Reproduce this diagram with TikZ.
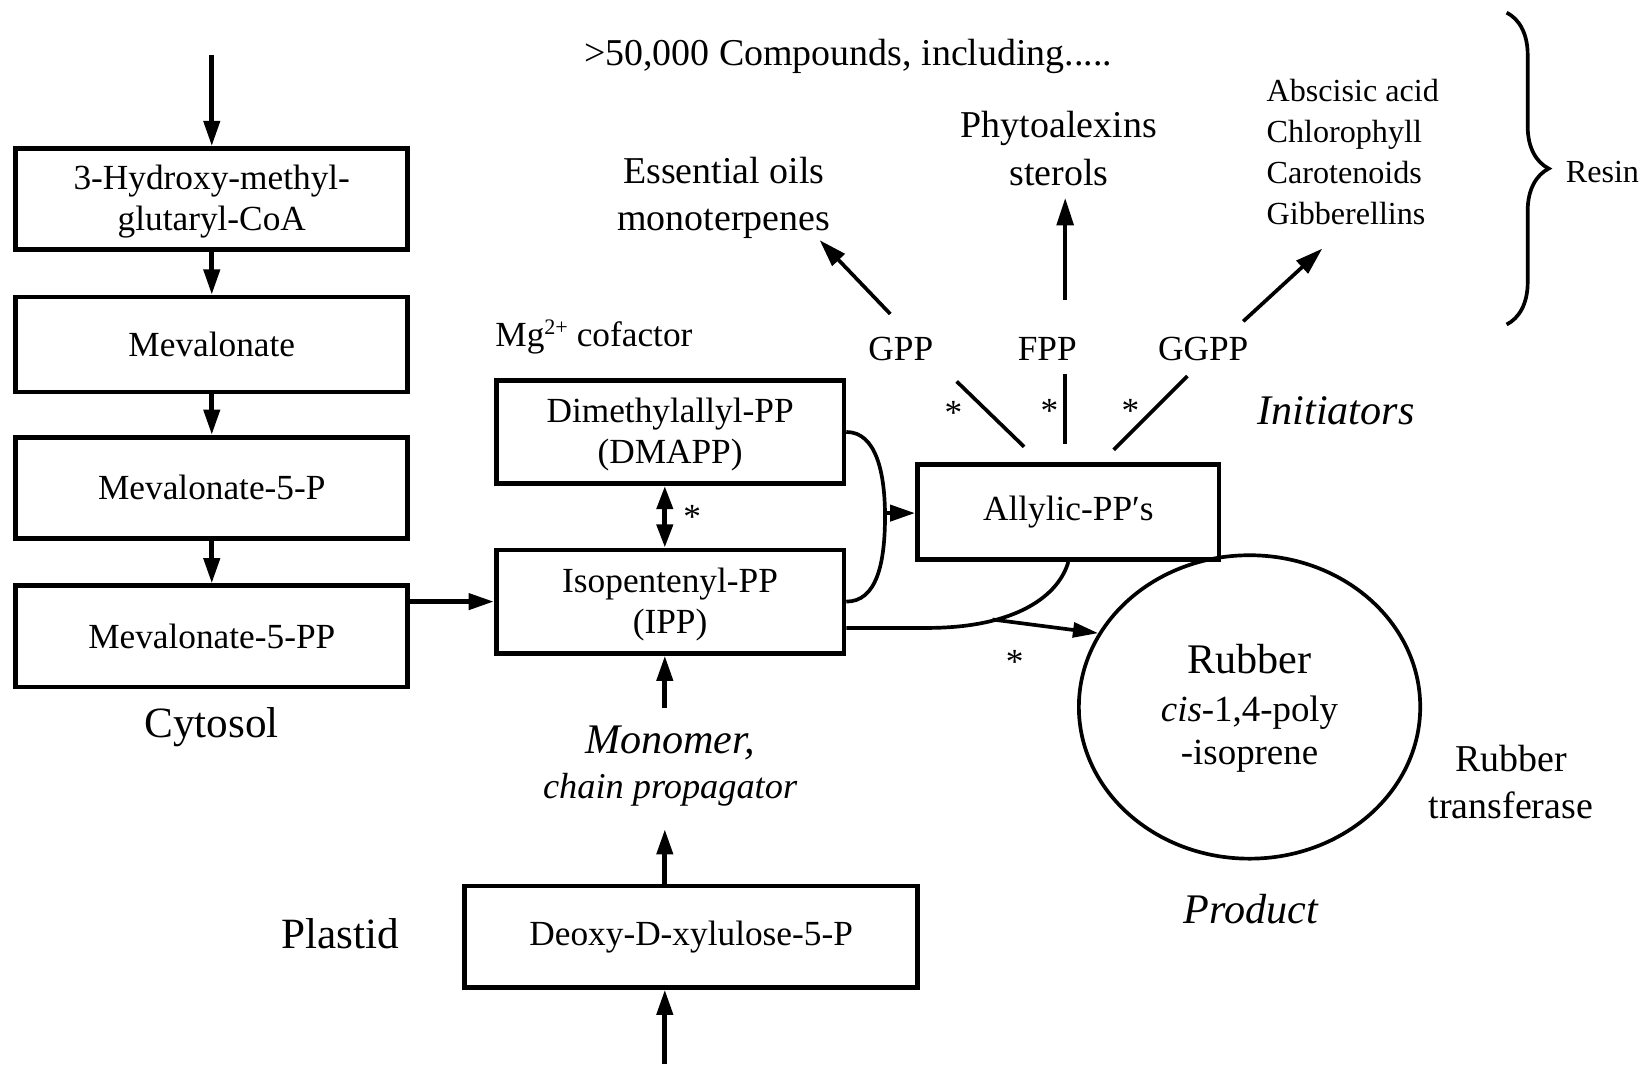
\documentclass[tikz,border=0pt]{standalone}
\usepackage{fontspec}
\setmainfont{Liberation Serif}
\usetikzlibrary{arrows.meta,decorations.pathreplacing,shapes.geometric}
\newcommand\szbox{\fontsize{33.5}{39}\selectfont}
\newcommand\szhead{\fontsize{36}{45}\selectfont}
\newcommand\szlist{\fontsize{30.5}{39}\selectfont}
\newcommand\szbig{\fontsize{40}{46}\selectfont}
\newcommand\szhuge{\fontsize{41}{46}\selectfont}
\begin{document}
\begin{tikzpicture}[x=1pt,y=-1pt,
  box/.style={draw,line width=4.5pt,inner sep=0pt,font=\szbox,align=center},
  arr/.style={line width=4.5pt,-{Triangle[length=24pt,width=15pt]}},
  darr/.style={line width=4.5pt,{Triangle[length=22pt,width=15pt]}-{Triangle[length=22pt,width=15pt]}},
  ln/.style={line width=3.5pt},
  lbl/.style={inner sep=0pt,align=center},
  star/.style={inner sep=0pt,font=\szbox}]
\useasboundingbox (0,0) rectangle (1568,1010);
\fill[white] (0,0) rectangle (1568,1010);

% left column
\coordinate (topin) at (201,52);
\node[box,minimum width=372pt,minimum height=96pt] (hmg) at (201,189) {\rule{0pt}{28pt}3-Hydroxy-methyl-\\glutaryl-CoA};
\node[box,minimum width=372pt,minimum height=90pt] (mev) at (201,327) {Mevalonate};
\node[box,minimum width=372pt,minimum height=96pt] (m5p) at (201,463) {Mevalonate-5-P};
\node[box,minimum width=372pt,minimum height=96pt] (m5pp) at (201,604) {Mevalonate-5-PP};
\node[lbl,font=\szhuge] (cyt) at (201,690) {Cytosol};
\node[lbl,font=\szhuge] (pla) at (323,886) {Plastid};
\draw[arr] (topin) -- (hmg.north);
\draw[arr] (hmg.south) -- (mev.north);
\draw[arr] (mev.south) -- (m5p.north);
\draw[arr] (m5p.south) -- (m5pp.north);

% middle column
\node[lbl,font=\szbox,anchor=west] (mg) at (470,320) {Mg\raisebox{11pt}{\fontsize{21}{21}\selectfont 2+} cofactor};
\node[box,minimum width=330pt,minimum height=98pt] (dmapp) at (636,410) {\rule{0pt}{28pt}Dimethylallyl-PP\\(DMAPP)};
\node[box,minimum width=330pt,minimum height=98pt] (ipp) at (636,571) {\rule{0pt}{28pt}Isopentenyl-PP\\(IPP)};
\node[lbl,font=\szbig\itshape] (mono) at (636,705) {Monomer,};
\node[lbl,font=\fontsize{34.5}{40}\selectfont\itshape] (chain) at (636,750) {chain propagator};
\node[box,minimum width=430pt,minimum height=96pt] (deoxy) at (656,889) {Deoxy-D-xylulose-5-P};
\coordinate (m1) at (631,672);
\coordinate (m2) at (631,787);
\coordinate (botin) at (631,1010);
\draw[arr] (m5pp.east |- ipp.west) -- (ipp.west);
\draw[darr] ([xshift=-5pt]dmapp.south) -- ([xshift=-5pt]ipp.north);
\node[star] (s1) at (657,491) {*};
\draw[arr] (m1) -- ([xshift=-5pt]ipp.south);
\draw[arr] ([xshift=-25pt]deoxy.north) -- (m2);
\draw[arr] (botin) -- ([xshift=-25pt]deoxy.south);

% allylic
\node[box,minimum width=286pt,minimum height=90pt] (allyl) at (1014,486) {Allylic-PP′s};
\draw[ln] (dmapp.east) .. controls (832,410) and (840,450) .. (840,490) .. controls (840,535) and (832,571) .. (ipp.east);
\coordinate (cv) at (840,487);
\draw[arr] (cv) -- (allyl.west |- cv);
\draw[ln] ([yshift=-25pt]ipp.east) -- (880,596) .. controls (965,596) and (1005,565) .. (allyl.south);

% rubber
\node[draw,ellipse,line width=3.5pt,minimum width=324pt,minimum height=288pt,inner sep=0pt] (rubber) at (1186,671) {};
\node[lbl,font=\szbig] (rt1) at (1186,626) {Rubber};
\node[lbl,font=\fontsize{35}{40}\selectfont] (rt2) at (1186,676) {\textit{cis}-1,4-poly};
\node[lbl,font=\fontsize{35}{40}\selectfont] (rt3) at (1186,718) {-isoprene};
\coordinate (cv2) at (942,588);
\draw[line width=3.5pt,-{Triangle[length=24pt,width=14pt]}] (cv2) -- (rubber.154);
\node[star] (s5) at (963,628) {*};
\node[lbl,font=\szhead] (rtr) at (1434,742) {Rubber\\transferase};
\node[lbl,font=\szbig\itshape] (prod) at (1187,863) {Product};

% initiators
\node[lbl,font=\szbox] (gpp) at (855,331) {GPP};
\node[lbl,font=\szbox] (fpp) at (994,331) {FPP};
\node[lbl,font=\szbox] (ggpp) at (1142,331) {GGPP};
\node[lbl,font=\szbig\itshape] (init) at (1268,390) {Initiators};
\coordinate (g1a) at (908,362); \coordinate (g1b) at (972,424);
\coordinate (g2a) at (1011,355); \coordinate (g2b) at (1011,421);
\coordinate (g3a) at (1127,357); \coordinate (g3b) at (1057,427);
\draw[ln] (g1a) -- (g1b);
\draw[ln] (g2a) -- (g2b);
\draw[ln] (g3a) -- (g3b);
\node[star] (s2) at (905,392) {*};
\node[star] (s3) at (996,390) {*};
\node[star] (s4) at (1073,390) {*};

% products
\node[lbl,font=\szhead] (top) at (805,54) {>50,000 Compounds, including.....};
\node[lbl,font=\szhead] (ess) at (687,188) {Essential oils\\monoterpenes};
\node[lbl,font=\szhead] (phy) at (1005,141) {Phytoalexins\\sterols};
\node[lbl,font=\szlist,align=left,anchor=west] (abs) at (1202,144) {Abscisic acid\\Chlorophyll\\Carotenoids\\Gibberellins};
\coordinate (a1s) at (845,298); \coordinate (a1e) at (778,228);
\coordinate (a2s) at (1011,285); \coordinate (a2e) at (1011,188);
\coordinate (a3s) at (1180,305); \coordinate (a3e) at (1255,236);
\draw[line width=3.5pt,-{Triangle[length=26pt,width=16pt]}] (a1s) -- (a1e);
\draw[line width=3.5pt,-{Triangle[length=26pt,width=16pt]}] (a2s) -- (a2e);
\draw[line width=3.5pt,-{Triangle[length=26pt,width=16pt]}] (a3s) -- (a3e);

% brace
\coordinate (b1) at (1430,12); \coordinate (b2) at (1430,308);
\draw[line width=3.5pt,decorate,decoration={brace,amplitude=40pt}] (b1) -- (b2);
\node[lbl,font=\szlist,anchor=west] (resin) at (1486,163) {Resin};
\end{tikzpicture}
\end{document}
